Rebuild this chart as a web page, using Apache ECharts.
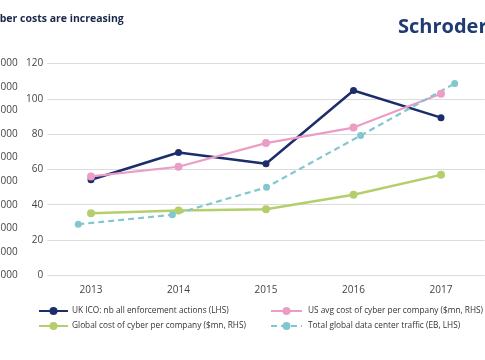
<!DOCTYPE html>
<html>
<head>
<meta charset="utf-8">
<script src="https://cdn.jsdelivr.net/npm/echarts@6/dist/echarts.min.js"></script>
<style>
html,body{margin:0;padding:0;background:#fff;}
#chart{width:485px;height:360px;}
</style>
</head>
<body>
<div id="chart"></div>
<script>
// ---- data ----
const years = ['2013', '2014', '2015', '2016', '2017'];
const ukIcoActions = [5060, 6220, 5740, 8850, 7700];        // LHS
const usAvgCost = [56.0, 61.5, 74.9, 83.7, 102.9];          // RHS ($mn)
const globalCost = [35.2, 36.7, 37.4, 45.6, 56.9];          // RHS ($mn)
const dcTraffic = [3170, 3570, 4740, 6940, 9150];           // LHS (EB)
const seriesNames = [
  'UK ICO: nb all enforcement actions (LHS)',
  'US avg cost of cyber per company ($mn, RHS)',
  'Global cost of cyber per company ($mn, RHS)',
  'Total global data center traffic (EB, LHS)'
];
const titleText = 'Cyber costs are increasing';
const brandText = 'Schroders';

const FONT = '"Open Sans", "Noto Sans", sans-serif';
const NAVY = '#1c2d6b';
const PINK = '#ec9dc5';
const GREEN = '#b5ce6c';
const TEAL = '#82c7d0';
const TXT = '#444444';

const chart = echarts.init(document.getElementById('chart'), null, {renderer: 'canvas'});

const gridTop = 63.5, gridBottom = 84.7;

chart.setOption({
  animation: false,
  textStyle: {fontFamily: FONT},
  title: {
    text: titleText,
    left: -13, top: 14, padding: 0,
    textStyle: {fontFamily: FONT, fontSize: 10.5, fontWeight: 'bold', color: '#1b2748'}
  },
  graphic: [{
    type: 'text', x: 398, y: 17,
    style: {text: brandText, font: 'bold 20px ' + FONT, fill: '#1f3b73', textAlign: 'left', textVerticalAlign: 'top'}
  }],
  legend: [{
    left: 38, top: 307, padding: 0, orient: 'vertical', itemGap: 7, itemWidth: 29, itemHeight: 10,
    data: [seriesNames[0], seriesNames[2]],
    textStyle: {fontFamily: FONT, fontSize: 8.3, color: '#333', padding: [0,0,0,-1]}
  }, {
    left: 270, top: 307, padding: 0, orient: 'vertical', itemGap: 7, itemWidth: 31, itemHeight: 10,
    data: [seriesNames[1], seriesNames[3]],
    textStyle: {fontFamily: FONT, fontSize: 8.3, color: '#333', padding: [0,0,0,1]}
  }],
  grid: [
    {left: 47.25, width: 437.5, top: gridTop, bottom: gridBottom, containLabel: false, outerBoundsMode: 'none'},
    {left: 78.3, width: 376.4, top: gridTop, bottom: gridBottom, containLabel: false, outerBoundsMode: 'none'}
  ],
  xAxis: [{
    type: 'category', gridIndex: 0, data: years, boundaryGap: true,
    axisLine: {show: false}, axisTick: {show: false},
    axisLabel: {margin: 10, fontSize: 10, color: TXT, fontFamily: FONT}
  }, {
    type: 'category', gridIndex: 1, data: years, boundaryGap: false, show: false
  }],
  yAxis: [{
    type: 'value', gridIndex: 0, position: 'left', min: 0, max: 120, interval: 20,
    axisLine: {show: false}, axisTick: {show: false},
    axisLabel: {margin: 4, fontSize: 10, color: TXT, fontFamily: FONT},
    splitLine: {show: true, lineStyle: {color: '#dcdcdc', width: 1}}
  }, {
    type: 'value', gridIndex: 0, position: 'left', offset: 25.5, min: 1000, max: 10000, interval: 1000,
    axisLine: {show: false}, axisTick: {show: false},
    axisLabel: {margin: 4, fontSize: 10, color: TXT, fontFamily: FONT},
    splitLine: {show: false}
  }, {
    type: 'value', gridIndex: 1, min: 1000, max: 10000, interval: 1000, show: false,
    splitLine: {show: false}
  }],
  series: [{
    name: seriesNames[0], type: 'line', xAxisIndex: 0, yAxisIndex: 1, data: ukIcoActions,
    symbol: 'circle', symbolSize: 7, color: NAVY,
    lineStyle: {color: NAVY, width: 2.5}, itemStyle: {color: NAVY}
  }, {
    name: seriesNames[1], type: 'line', xAxisIndex: 0, yAxisIndex: 0, data: usAvgCost,
    symbol: 'circle', symbolSize: 8, color: PINK,
    lineStyle: {color: PINK, width: 2.2}, itemStyle: {color: PINK}
  }, {
    name: seriesNames[2], type: 'line', xAxisIndex: 0, yAxisIndex: 0, data: globalCost,
    symbol: 'circle', symbolSize: 8, color: GREEN,
    lineStyle: {color: GREEN, width: 2.5}, itemStyle: {color: GREEN}
  }, {
    name: seriesNames[3], type: 'line', xAxisIndex: 1, yAxisIndex: 2, data: dcTraffic,
    symbol: 'circle', symbolSize: 7, color: TEAL,
    lineStyle: {color: TEAL, width: 2.2, type: [6, 4]}, itemStyle: {color: TEAL}
  }]
});
</script>
</body>
</html>
